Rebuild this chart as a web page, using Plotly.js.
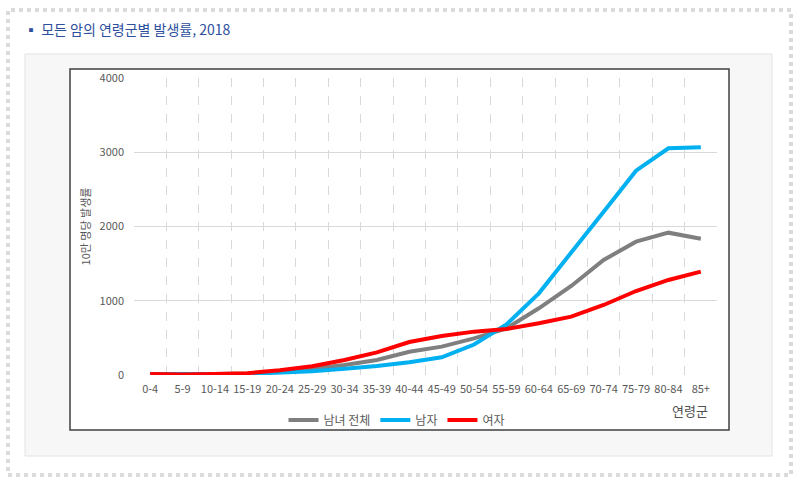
<!DOCTYPE html>
<html>
<head>
<meta charset="utf-8">
<script src="https://cdn.plot.ly/plotly-3.0.1.min.js"></script>
<style>
  html, body { margin: 0; padding: 0; background: #ffffff; }
  #chart { width: 800px; height: 484px; }
</style>
</head>
<body>
<div id="chart"></div>
<script>
const ageGroups = ["0-4","5-9","10-14","15-19","20-24","25-29","30-34","35-39","40-44","45-49","50-54","55-59","60-64","65-69","70-74","75-79","80-84","85+"];
const totalRate = [15, 10, 13, 20, 45, 85, 135, 202, 314, 382, 494, 629, 898, 1199, 1549, 1796, 1917, 1836];
const maleRate  = [15, 10, 12, 15, 27, 50, 85, 121, 171, 238, 410, 680, 1100, 1640, 2200, 2752, 3053, 3067];
const femaleRate= [15, 8, 15, 25, 63, 117, 202, 305, 444, 525, 584, 620, 696, 786, 943, 1131, 1280, 1392];
const seriesNames = ["남녀 전체", "남자", "여자"];
const yTicks = [0, 1000, 2000, 3000, 4000];

const FONT = '"Noto Sans CJK KR", "Noto Sans", sans-serif';
const TXT = '#595959';

// plot area in pixels: left 134, right 717, top 78, bottom 375
const L = 134, R = 717, T = 78, B = 375;
const px = x => (x - L) / (R - L);
const py = y => (B - y) / (B - T);

const traces = [
  {x: ageGroups, y: totalRate, name: seriesNames[0], type: 'scatter', mode: 'lines', line: {color: '#7f7f7f', width: 4}},
  {x: ageGroups, y: maleRate, name: seriesNames[1], type: 'scatter', mode: 'lines', line: {color: '#00b0f0', width: 4}},
  {x: ageGroups, y: femaleRate, name: seriesNames[2], type: 'scatter', mode: 'lines', line: {color: '#ff0000', width: 4}}
];

const layout = {
  width: 800, height: 484,
  margin: {l: L, r: 800 - R, t: T, b: 484 - B, pad: 0},
  paper_bgcolor: '#ffffff',
  plot_bgcolor: '#ffffff',
  font: {family: FONT, color: TXT, size: 11},
  title: {
    text: '▪ 모든 암의 연령군별 발생률, 2018',
    font: {family: FONT, size: 14, color: '#2d4f9e'},
    x: 24 / 800, xanchor: 'left', xref: 'container',
    y: 1 - 30 / 484, yanchor: 'middle', yref: 'container'
  },
  showlegend: true,
  legend: {
    orientation: 'h', x: px(397), xanchor: 'center', y: py(420), yanchor: 'middle',
    font: {family: FONT, size: 12, color: TXT}, bgcolor: 'rgba(0,0,0,0)',
    itemwidth: 30, tracegroupgap: 0
  },
  xaxis: {
    type: 'category', range: [-0.5, 17.5], tickson: 'boundaries',
    showgrid: true, gridcolor: '#d9d9d9', griddash: 'dash', gridwidth: 1,
    ticks: '', showline: false, zeroline: false, tickangle: 0,
    tickfont: {family: FONT, size: 11, color: TXT}, ticklabelstandoff: 6,
    fixedrange: true
  },
  yaxis: {
    range: [0, 4000], tickvals: yTicks, ticktext: yTicks.map(String),
    showgrid: true, gridcolor: '#d9d9d9', gridwidth: 1,
    ticks: '', showline: false, zeroline: false,
    tickfont: {family: FONT, size: 11, color: TXT}, ticklabelstandoff: 9,
    title: {text: '10만 명당 발생률', font: {family: FONT, size: 11, color: TXT}, standoff: 6},
    fixedrange: true
  },
  annotations: [
    {text: '연령군', xref: 'paper', yref: 'paper', x: px(690), y: py(411), xanchor: 'center', yanchor: 'middle',
     showarrow: false, font: {family: FONT, size: 13, color: '#505050'}}
  ],
  shapes: [
    // stamp-like outer frame
    {type: 'rect', xref: 'paper', yref: 'paper', x0: px(8), x1: px(791), y0: py(475), y1: py(10),
     line: {color: '#dadada', width: 4, dash: 'dot'}, fillcolor: 'rgba(0,0,0,0)', layer: 'below'},
    // light grey panel
    {type: 'rect', xref: 'paper', yref: 'paper', x0: px(25), x1: px(772), y0: py(456), y1: py(54),
     line: {color: '#e3e3e3', width: 1}, fillcolor: '#f7f7f7', layer: 'below'},
    // chart box
    {type: 'rect', xref: 'paper', yref: 'paper', x0: px(70), x1: px(729), y0: py(430), y1: py(69),
     line: {color: '#404040', width: 1.5}, fillcolor: '#ffffff', layer: 'below'}
  ]
};

Plotly.newPlot('chart', traces, layout, {displayModeBar: false, staticPlot: true});
</script>
</body>
</html>
